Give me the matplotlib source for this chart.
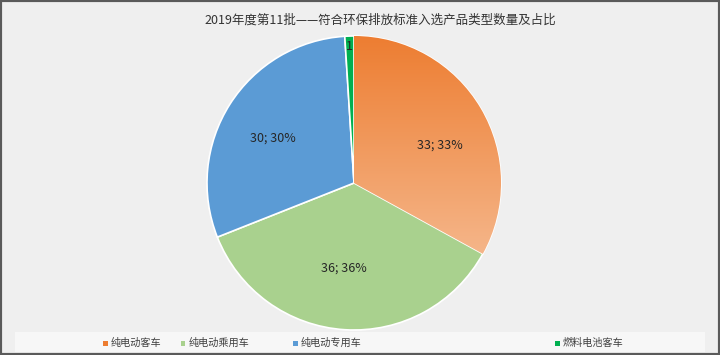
import numpy as np
import matplotlib.pyplot as plt
from matplotlib.patches import Rectangle
from matplotlib.colors import LinearSegmentedColormap

plt.rcParams['font.family'] = ['Noto Sans CJK SC', 'DejaVu Sans']

# 数据
categories = ['纯电动客车', '纯电动乘用车', '纯电动专用车', '燃料电池客车']
counts = [33, 36, 30, 1]
colors = ['#ED7D31', '#A9D18E', '#5B9BD5', '#00B050']
title = '2019年度第11批——符合环保排放标准入选产品类型数量及占比'

fig = plt.figure(figsize=(7.2, 3.55), dpi=100, facecolor='#efefef')

# 边框
fig.patches.append(Rectangle((0, 0), 1, 1, transform=fig.transFigure,
                             fill=False, edgecolor='#5a5a5a', linewidth=3))
# 图例底色
fig.patches.append(Rectangle((15 / 720, 3 / 355), 690 / 720, 20 / 355,
                             transform=fig.transFigure, facecolor='#f7f7f7',
                             edgecolor='none', zorder=0))

fig.text(380 / 720, 1 - 20 / 355, title, ha='center', va='center',
         fontsize=9, color='#333333')

ax = fig.add_axes([207 / 720, 25 / 355, 294 / 720, 294 / 355])
wedges, _ = ax.pie(counts, colors=colors, startangle=90, counterclock=False,
                   radius=1, wedgeprops=dict(edgecolor='white', linewidth=1.2))
ax.set_xlim(-1, 1)
ax.set_ylim(-1, 1)
ax.set_aspect('equal')
ax.axis('off')

# 橙色扇区渐变
cmap = LinearSegmentedColormap.from_list('og', ['#F5B68A', '#ED7D31'])
grad = np.linspace(0, 1, 256).reshape(-1, 1)
img = ax.imshow(grad, cmap=cmap, extent=(0, 1, -0.5, 1), origin='lower',
                aspect='auto', zorder=wedges[0].get_zorder() + 0.1)
img.set_clip_path(wedges[0])
ax.set_xlim(-1, 1)
ax.set_ylim(-1, 1)

# 数据标签 (距离, 角度微调)
label_dist = [0.64, 0.58, 0.63, 0.93]
label_rot = [-6.8, -3, 3.4, 0]
total = sum(counts)
for w, v, d, r in zip(wedges, counts, label_dist, label_rot):
    mid = np.deg2rad((w.theta1 + w.theta2) / 2 + r)
    s = f'{v}' if v < 5 else f'{v}; {v * 100 / total:.0f}%'
    ax.text(d * np.cos(mid), d * np.sin(mid), s, ha='center', va='center',
            fontsize=9, color='#262626', zorder=5)

# 图例
leg_x = [105, 183, 295, 557]
for x, c, lab in zip(leg_x, colors, categories):
    fig.patches.append(Rectangle(((x - 2.5) / 720, (355 - 345.5) / 355), 5 / 720, 5 / 355,
                                 transform=fig.transFigure, facecolor=c,
                                 edgecolor='none', zorder=2))
    fig.text((x + 6) / 720, 1 - 343 / 355, lab, ha='left', va='center',
             fontsize=7.3, color='#404040')

fig.savefig('out.png', dpi=100, facecolor=fig.get_facecolor())
